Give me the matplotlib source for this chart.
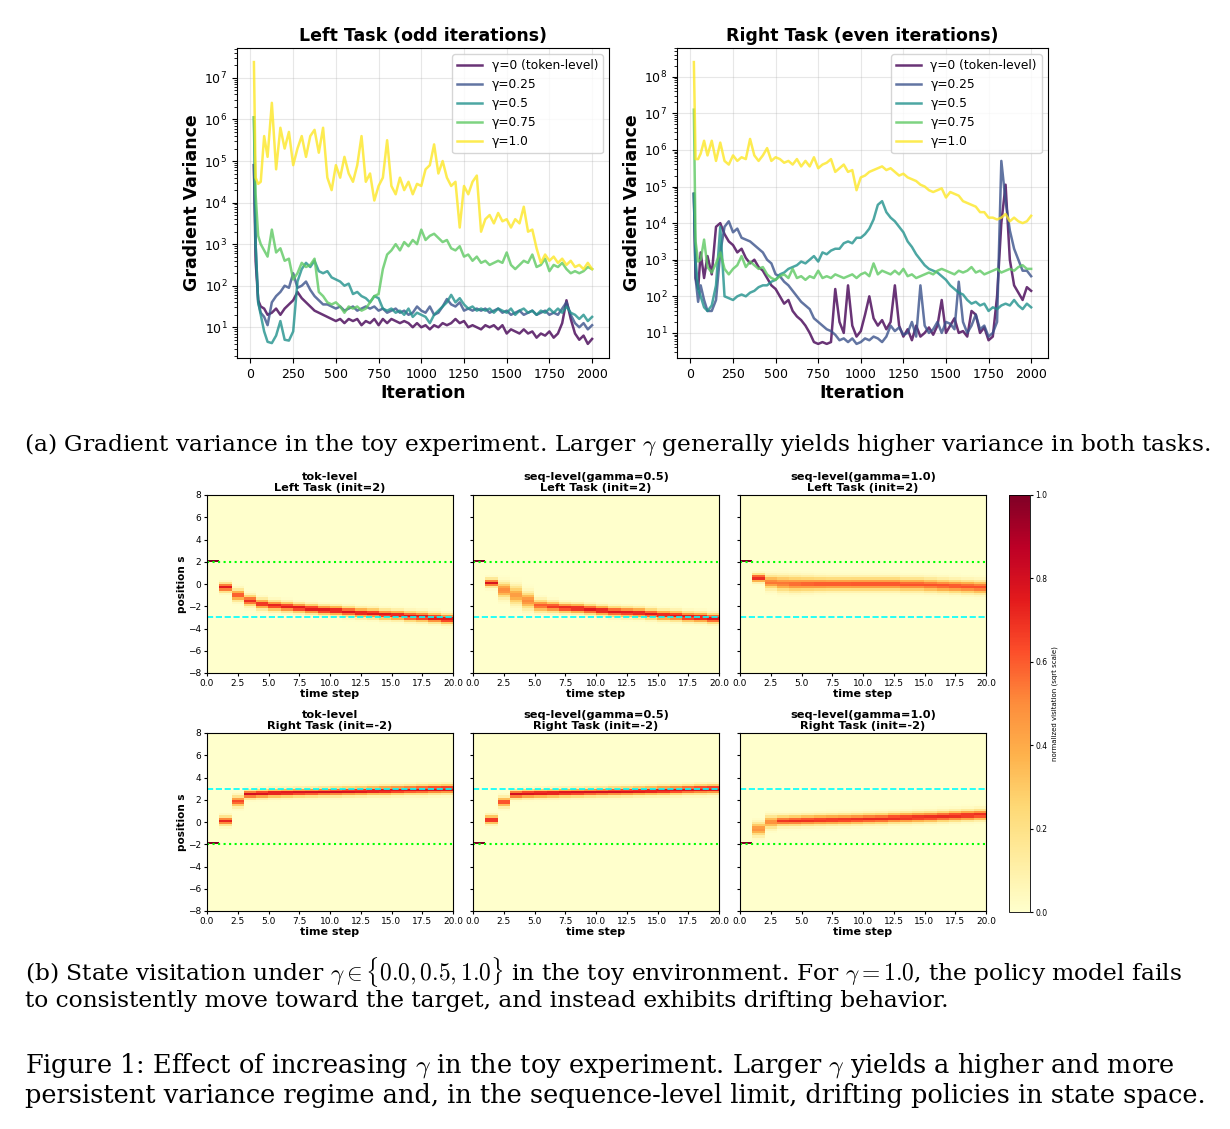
import numpy as np
import matplotlib
matplotlib.use('Agg')
import matplotlib.pyplot as plt

iters = [20, 30, 45, 60, 80, 100] + list(range(125, 2001, 25))

gamma_labels = ['γ=0 (token-level)', 'γ=0.25', 'γ=0.5', 'γ=0.75', 'γ=1.0']

# log10(gradient variance), left task (odd iterations)
left_g000 = [4.9, 2.6, 1.65, 1.5, 1.45, 1.3,
             1.35, 1.45, 1.3, 1.45, 1.55, 1.65, 1.85, 1.7, 1.6, 1.5,
             1.4, 1.35, 1.3, 1.25, 1.2, 1.15, 1.2, 1.1, 1.2, 1.15,
             1.2, 1.05, 1.15, 1.1, 1.2, 1.05, 1.2, 1.1, 1.2, 1.15,
             1.1, 1.15, 1.1, 1.0, 1.1, 1.0, 1.05, 0.95, 1.05, 1.0,
             1.1, 1.05, 1.1, 1.2, 1.1, 1.15, 1.0, 1.05, 1.0, 0.95,
             1.05, 1.0, 1.05, 0.95, 1.05, 0.85, 0.95, 0.9, 0.85, 0.95,
             0.85, 0.9, 0.75, 0.85, 0.8, 0.9, 0.75, 0.85, 1.1, 1.65,
             1.2, 0.85, 0.7, 0.8, 0.6, 0.72]
left_g025 = [4.9, 3.0, 1.6, 1.35, 1.25, 1.05,
             1.6, 1.75, 1.85, 2.0, 1.95, 2.3, 1.95, 2.0, 2.1, 1.9,
             1.75, 1.65, 1.55, 1.55, 1.5, 1.45, 1.5, 1.4, 1.45, 1.5,
             1.4, 1.45, 1.5, 1.45, 1.5, 1.4, 1.45, 1.35, 1.4, 1.45,
             1.35, 1.4, 1.3, 1.35, 1.5, 1.4, 1.35, 1.5, 1.3, 1.35,
             1.5, 1.68, 1.55, 1.5, 1.6, 1.4, 1.45, 1.4, 1.45, 1.4,
             1.45, 1.35, 1.4, 1.45, 1.35, 1.4, 1.3, 1.35, 1.4, 1.3,
             1.35, 1.4, 1.3, 1.35, 1.4, 1.3, 1.35, 1.3, 1.45, 1.6,
             1.3, 1.1, 1.0, 1.1, 0.95, 1.05]
left_g050 = [6.05, 3.0, 1.6, 1.3, 0.9, 0.65,
             0.62, 0.8, 1.15, 0.7, 0.68, 0.9, 2.1, 2.4, 2.55, 2.45,
             2.6, 2.35, 2.3, 2.35, 2.2, 2.15, 2.1, 2.0, 2.05, 1.8,
             1.85, 1.75, 1.7, 1.6, 1.75, 1.7, 1.45, 1.4, 1.45, 1.35,
             1.4, 1.3, 1.45, 1.25, 1.35, 1.3, 1.25, 1.1, 1.3, 1.4,
             1.5, 1.6, 1.78, 1.6, 1.7, 1.55, 1.45, 1.5, 1.4, 1.45,
             1.4, 1.45, 1.35, 1.45, 1.4, 1.35, 1.45, 1.3, 1.4, 1.45,
             1.35, 1.4, 1.3, 1.4, 1.35, 1.45, 1.35, 1.45, 1.35, 1.5,
             1.35, 1.3, 1.2, 1.3, 1.15, 1.25]
left_g075 = [6.05, 4.2, 3.2, 3.0, 2.85, 2.7,
             3.35, 2.8, 2.9, 2.6, 2.65, 2.15, 2.3, 2.55, 2.45, 2.5,
             2.65, 1.85, 1.75, 1.6, 1.55, 1.6, 1.5, 1.35, 1.5, 1.45,
             1.5, 1.4, 1.45, 1.6, 1.75, 1.8, 2.4, 2.75, 2.85, 3.0,
             2.85, 3.05, 2.95, 3.1, 3.0, 3.35, 3.1, 3.2, 3.25, 3.15,
             3.05, 3.1, 2.9, 2.85, 2.95, 2.7, 2.75, 2.6, 2.7, 2.55,
             2.6, 2.5, 2.55, 2.6, 2.55, 2.8, 2.5, 2.4, 2.5, 2.6,
             2.55, 2.75, 2.45, 2.5, 2.65, 2.35, 2.5, 2.45, 2.55, 2.4,
             2.3, 2.35, 2.3, 2.35, 2.45, 2.4]
left_g100 = [7.38, 4.6, 4.45, 4.5, 5.6, 5.1,
             6.4, 4.8, 5.8, 5.3, 5.7, 4.9, 5.3, 5.6, 5.1, 5.6,
             5.75, 5.2, 5.8, 4.6, 4.3, 4.9, 4.6, 5.1, 4.7, 4.5,
             4.9, 5.6, 4.5, 4.7, 4.05, 4.4, 4.6, 5.5, 4.4, 4.2,
             4.6, 4.3, 4.5, 4.2, 4.45, 4.4, 4.8, 4.9, 5.4, 4.7,
             5.0, 4.6, 4.4, 4.5, 3.4, 4.4, 4.2, 4.5, 4.65, 3.3,
             3.6, 3.7, 3.5, 3.75, 3.55, 3.6, 3.4, 3.6, 3.5, 3.9,
             3.3, 3.35, 2.9, 2.55, 2.75, 2.6, 2.7, 2.55, 2.65, 2.5,
             2.6, 2.45, 2.5, 2.4, 2.55, 2.4]

# log10(gradient variance), right task (even iterations)
right_g000 = [4.8, 2.5, 2.2, 3.2, 2.5, 3.1,
              2.6, 3.9, 4.0, 3.7, 3.5, 3.4, 3.2, 3.3, 3.05, 2.9,
              3.0, 2.8, 2.7, 2.5, 2.3, 2.2, 2.0, 1.8, 1.9, 1.6,
              1.45, 1.35, 1.2, 1.0, 0.75, 0.7, 0.75, 0.7, 0.75, 2.2,
              1.3, 1.0, 2.3, 1.2, 0.9, 1.05, 1.5, 2.0, 1.4, 1.2,
              1.35, 1.1, 1.3, 2.3, 1.2, 0.9, 1.1, 0.8, 1.2, 0.9,
              1.0, 1.15, 0.95, 1.2, 1.9, 1.0, 1.2, 1.4, 1.0, 1.05,
              0.9, 1.6, 1.5, 1.0, 1.15, 0.8, 0.9, 2.0, 4.0, 5.05,
              3.0, 2.3, 2.1, 1.9, 2.25, 2.15]
right_g025 = [4.8, 2.5, 1.85, 2.3, 1.9, 1.6,
              1.6, 1.9, 3.2, 3.9, 4.05, 3.75, 3.85, 3.6, 3.55, 3.5,
              3.4, 3.3, 3.2, 3.0, 2.9, 2.6, 2.55, 2.4, 2.3, 2.15,
              2.0, 1.85, 1.75, 1.65, 1.4, 1.3, 1.2, 1.1, 1.05, 0.95,
              0.8, 0.85, 0.75, 0.85, 0.7, 0.75, 0.85, 0.8, 0.9, 0.85,
              0.75, 0.9, 1.2, 1.05, 1.15, 0.95, 1.0, 1.3, 0.9, 2.3,
              1.2, 1.0, 1.1, 1.3, 1.0, 1.3, 1.25, 1.1, 2.4, 1.3,
              1.0, 1.2, 1.5, 1.1, 1.2, 0.9, 1.0, 1.3, 5.7, 4.6,
              3.8, 3.3, 3.0, 2.7, 2.7, 2.55]
right_g050 = [4.8, 3.0, 2.2, 2.0, 1.7, 1.6,
              1.75, 2.3, 3.9, 2.0, 1.95, 1.9, 2.0, 2.05, 2.0, 2.1,
              2.15, 2.25, 2.3, 2.3, 2.4, 2.45, 2.6, 2.65, 2.75, 2.8,
              2.85, 2.95, 2.9, 3.0, 3.1, 2.95, 3.2, 3.15, 3.25, 3.3,
              3.3, 3.45, 3.5, 3.45, 3.6, 3.6, 3.7, 3.85, 4.1, 4.5,
              4.6, 4.3, 4.15, 4.05, 3.9, 3.75, 3.5, 3.35, 3.15, 3.0,
              2.85, 2.75, 2.7, 2.65, 2.55, 2.45, 2.3, 2.2, 2.1, 2.05,
              1.9, 1.8, 1.85, 1.75, 1.8, 1.6, 1.7, 1.65, 1.75, 1.8,
              1.75, 1.9, 1.75, 1.65, 1.8, 1.7]
right_g075 = [7.1, 3.5, 2.95, 3.0, 3.55, 2.8,
              2.65, 2.9, 3.2, 2.75, 2.6, 2.75, 2.85, 3.1, 2.8, 2.95,
              2.85, 2.75, 2.8, 2.6, 2.5, 2.45, 2.55, 2.6, 2.5, 2.75,
              2.5, 2.55, 2.45, 2.55, 2.5, 2.7, 2.5, 2.55, 2.5, 2.6,
              2.55, 2.5, 2.55, 2.6, 2.5, 2.6, 2.65, 2.55, 2.9, 2.6,
              2.7, 2.65, 2.6, 2.7, 2.6, 2.75, 2.55, 2.6, 2.5, 2.55,
              2.6, 2.65, 2.6, 2.7, 2.75, 2.7, 2.65, 2.6, 2.7, 2.65,
              2.7, 2.8, 2.65, 2.7, 2.6, 2.65, 2.7, 2.75, 2.65, 2.7,
              2.75, 2.7, 2.8, 2.85, 2.75, 2.75]
right_g100 = [8.4, 5.75, 5.75, 5.9, 6.25, 5.85,
              6.25, 5.7, 6.2, 5.7, 5.6, 5.85, 5.7, 5.8, 5.75, 6.3,
              5.85, 5.7, 5.85, 6.05, 5.7, 5.8, 5.75, 5.65, 5.7, 5.6,
              5.75, 5.55, 5.7, 5.55, 5.8, 5.5, 5.6, 5.65, 5.75, 5.4,
              5.5, 5.6, 5.4, 5.45, 4.9, 5.25, 5.3, 5.4, 5.45, 5.5,
              5.55, 5.45, 5.5, 5.4, 5.3, 5.35, 5.25, 5.2, 5.15, 5.05,
              5.0, 4.9, 4.85, 4.9, 4.95, 4.7, 4.85, 4.8, 4.75, 4.6,
              4.55, 4.5, 4.45, 4.3, 4.3, 4.15, 4.15, 4.1, 4.15, 4.25,
              4.05, 4.15, 4.05, 4.0, 4.05, 4.2]

# state visitation: per time step, centre / spread / peak (sqrt-normalised)
tok_left_center = [2.1, -0.3, -1.0, -1.5, -1.8, -1.95, -2.05, -2.15, -2.25, -2.35,
                   -2.4, -2.5, -2.6, -2.65, -2.75, -2.8, -2.9, -2.95, -3.05, -3.15]
tok_left_width = [0.05, 0.24, 0.3, 0.28, 0.27, 0.26, 0.26, 0.25, 0.25, 0.25,
                  0.25, 0.25, 0.25, 0.25, 0.25, 0.25, 0.26, 0.26, 0.26, 0.26]
tok_left_peak = [1.0, 0.75, 0.62, 0.7, 0.72, 0.74, 0.75, 0.76, 0.76, 0.76,
                 0.77, 0.77, 0.77, 0.77, 0.77, 0.77, 0.76, 0.76, 0.76, 0.76]

seq05_left_center = [2.1, 0.1, -0.55, -1.0, -1.5, -1.95, -2.05, -2.15, -2.2, -2.3,
                     -2.4, -2.5, -2.55, -2.6, -2.7, -2.8, -2.85, -2.95, -3.0, -3.1]
seq05_left_width = [0.05, 0.22, 0.42, 0.5, 0.45, 0.32, 0.28, 0.26, 0.26, 0.26,
                    0.26, 0.26, 0.26, 0.26, 0.26, 0.26, 0.26, 0.26, 0.26, 0.26]
seq05_left_peak = [1.0, 0.78, 0.5, 0.45, 0.5, 0.6, 0.68, 0.72, 0.74, 0.75,
                   0.76, 0.76, 0.76, 0.76, 0.76, 0.76, 0.76, 0.76, 0.76, 0.76]

seq10_left_center = [2.1, 0.55, 0.15, 0.05, 0.0, 0.0, 0.0, 0.0, 0.0, 0.0,
                     0.0, 0.0, 0.0, -0.05, -0.05, -0.1, -0.15, -0.2, -0.25, -0.3]
seq10_left_width = [0.05, 0.22, 0.36, 0.4, 0.4, 0.38, 0.36, 0.35, 0.35, 0.35,
                    0.35, 0.35, 0.35, 0.35, 0.35, 0.35, 0.35, 0.35, 0.35, 0.35]
seq10_left_peak = [1.0, 0.72, 0.55, 0.55, 0.58, 0.6, 0.62, 0.62, 0.62, 0.63,
                   0.63, 0.63, 0.63, 0.62, 0.62, 0.62, 0.62, 0.62, 0.62, 0.62]

tok_right_center = [-1.9, 0.1, 1.85, 2.5, 2.55, 2.6, 2.62, 2.65, 2.67, 2.7,
                    2.72, 2.75, 2.77, 2.8, 2.82, 2.85, 2.88, 2.9, 2.93, 2.95]
tok_right_width = [0.05, 0.24, 0.28, 0.22, 0.22, 0.22, 0.22, 0.22, 0.22, 0.22,
                   0.23, 0.23, 0.23, 0.23, 0.24, 0.24, 0.24, 0.25, 0.25, 0.25]
tok_right_peak = [1.0, 0.72, 0.65, 0.8, 0.8, 0.8, 0.8, 0.8, 0.8, 0.8,
                  0.8, 0.8, 0.79, 0.79, 0.79, 0.78, 0.78, 0.78, 0.78, 0.78]

seq05_right_center = [-1.9, 0.2, 1.8, 2.5, 2.55, 2.58, 2.6, 2.63, 2.65, 2.68,
                      2.7, 2.73, 2.75, 2.78, 2.8, 2.83, 2.86, 2.9, 2.93, 2.95]
seq05_right_width = [0.05, 0.23, 0.26, 0.22, 0.22, 0.22, 0.22, 0.22, 0.22, 0.22,
                     0.22, 0.23, 0.23, 0.23, 0.23, 0.24, 0.24, 0.24, 0.25, 0.25]
seq05_right_peak = [1.0, 0.74, 0.66, 0.8, 0.8, 0.8, 0.8, 0.8, 0.8, 0.8,
                    0.8, 0.8, 0.79, 0.79, 0.79, 0.79, 0.78, 0.78, 0.78, 0.78]

seq10_right_center = [-1.9, -0.65, 0.0, 0.1, 0.12, 0.15, 0.18, 0.2, 0.22, 0.25,
                      0.28, 0.3, 0.35, 0.38, 0.42, 0.45, 0.5, 0.55, 0.6, 0.65]
seq10_right_width = [0.05, 0.36, 0.34, 0.28, 0.28, 0.28, 0.28, 0.28, 0.28, 0.28,
                     0.28, 0.28, 0.28, 0.28, 0.28, 0.28, 0.28, 0.28, 0.28, 0.28]
seq10_right_peak = [1.0, 0.48, 0.5, 0.68, 0.7, 0.7, 0.7, 0.7, 0.7, 0.7,
                    0.71, 0.71, 0.71, 0.71, 0.71, 0.71, 0.71, 0.71, 0.71, 0.71]

method_titles = ['tok-level', 'seq-level(gamma=0.5)', 'seq-level(gamma=1.0)']
task_titles = ['Left Task (init=2)', 'Right Task (init=-2)']
task_init = [2, -2]
task_target = [-3, 3]

W, H = 1230, 1129
fig = plt.figure(figsize=(W / 100, H / 100), dpi=100)
colors = plt.cm.viridis(np.linspace(0, 1, 5))


def plot_variance(ax, series, title):
    for vals, lab, col in zip(series, gamma_labels, colors):
        ax.plot(iters, 10 ** np.array(vals), color=col, lw=1.8, alpha=0.8, label=lab)
    ax.set_yscale('log')
    ax.set_xticks(range(0, 2001, 250))
    ax.set_title(title, fontsize=12.5, fontweight='bold', pad=5)
    ax.set_xlabel('Iteration', fontsize=12.5, fontweight='bold', labelpad=2)
    ax.set_ylabel('Gradient Variance', fontsize=12.5, fontweight='bold', labelpad=2)
    ax.tick_params(labelsize=9)
    ax.grid(True, alpha=0.3)
    ax.legend(fontsize=8.8, loc='upper right')


ax_l = fig.add_axes([237 / W, 1 - 358 / H, 372 / W, 310 / H])
ax_r = fig.add_axes([677 / W, 1 - 358 / H, 371 / W, 310 / H])
plot_variance(ax_l, [left_g000, left_g025, left_g050, left_g075, left_g100],
              'Left Task (odd iterations)')
plot_variance(ax_r, [right_g000, right_g025, right_g050, right_g075, right_g100],
              'Right Task (even iterations)')

# heatmaps, position bins of 0.2
pos_edges = np.linspace(-8, 8, 81)
pos_mid = 0.5 * (pos_edges[:-1] + pos_edges[1:])


def visitation(center, width, peak):
    c, w, p = np.array(center), np.array(width), np.array(peak)
    return p[None, :] * np.exp(-0.5 * ((pos_mid[:, None] - c[None, :]) / w[None, :]) ** 2)


panels = [[(tok_left_center, tok_left_width, tok_left_peak),
           (seq05_left_center, seq05_left_width, seq05_left_peak),
           (seq10_left_center, seq10_left_width, seq10_left_peak)],
          [(tok_right_center, tok_right_width, tok_right_peak),
           (seq05_right_center, seq05_right_width, seq05_right_peak),
           (seq10_right_center, seq10_right_width, seq10_right_peak)]]

col_left = [207, 473, 740]
row_bottom = [673, 911]
im = None
for r in range(2):
    for c in range(3):
        ax = fig.add_axes([col_left[c] / W, 1 - row_bottom[r] / H, 246 / W, 178 / H])
        grid = visitation(*panels[r][c])
        im = ax.imshow(grid, origin='lower', extent=[0, 20, -8, 8], aspect='auto',
                       cmap='YlOrRd', vmin=0, vmax=1, interpolation='nearest')
        ax.axhline(task_init[r], color='lime', ls=':', lw=1.5)
        ax.axhline(task_target[r], color='cyan', ls='--', lw=1.2)
        ax.set_xticks(np.arange(0, 20.1, 2.5))
        ax.set_yticks(range(-8, 9, 2))
        ax.tick_params(labelsize=6.5, length=2.5, pad=1.5)
        ax.set_title(method_titles[c] + '\n' + task_titles[r], fontsize=8.2,
                     fontweight='bold', pad=3, linespacing=1.05)
        ax.set_xlabel('time step', fontsize=8, fontweight='bold', labelpad=1)
        if c == 0:
            ax.set_ylabel('position s', fontsize=7.5, fontweight='bold', labelpad=1)
        else:
            ax.set_yticklabels([])

cax = fig.add_axes([1009 / W, 1 - 912 / H, 21 / W, 417 / H])
cb = fig.colorbar(im, cax=cax)
cb.set_ticks(np.arange(0, 1.01, 0.2))
cb.ax.tick_params(labelsize=5.5, length=2.5, pad=1.5)
cb.set_label('normalized visitation (sqrt scale)', fontsize=5, labelpad=3)
cb.outline.set_linewidth(0.6)

# captions
renderer = fig.canvas.get_renderer()


def fit_size(txt, width_px, base=12):
    t = fig.text(0, 0, txt, fontsize=base, family='DejaVu Serif', math_fontfamily='cm')
    w = t.get_window_extent(renderer).width
    t.remove()
    return base * width_px / w


cap_a = r'(a) Gradient variance in the toy experiment. Larger $\gamma$ generally yields higher variance in both tasks.'
cap_b1 = r'(b) State visitation under $\gamma \in \{0.0, 0.5, 1.0\}$ in the toy environment. For $\gamma = 1.0$, the policy model fails'
cap_b2 = 'to consistently move toward the target, and instead exhibits drifting behavior.'
cap_f1 = r'Figure 1: Effect of increasing $\gamma$ in the toy experiment. Larger $\gamma$ yields a higher and more'
cap_f2 = 'persistent variance regime and, in the sequence-level limit, drifting policies in state space.'

size_small = fit_size(cap_a, 1185)
size_big = fit_size(cap_f2, 1178)
kw = dict(family='DejaVu Serif', math_fontfamily='cm', va='center')
fig.text(617 / W, 1 - 445 / H, cap_a, ha='center', fontsize=size_small, **kw)
fig.text(25 / W, 1 - 972 / H, cap_b1, ha='left', fontsize=size_small, **kw)
fig.text(25 / W, 1 - 1001 / H, cap_b2, ha='left', fontsize=size_small, **kw)
fig.text(25 / W, 1 - 1065 / H, cap_f1, ha='left', fontsize=size_big, **kw)
fig.text(25 / W, 1 - 1096 / H, cap_f2, ha='left', fontsize=size_big, **kw)

fig.savefig('out.png', dpi=100)
